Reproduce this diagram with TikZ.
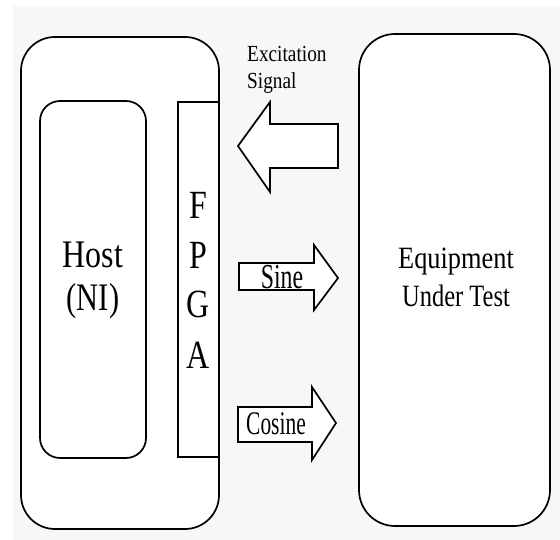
\documentclass[tikz,border=0pt]{standalone}
\usepackage{fontspec}
\setmainfont{Liberation Serif}
\usepackage{graphicx}
\begin{document}
\begin{tikzpicture}[x=1pt,y=-1pt,
  box/.style={draw=black,line width=1.7pt,fill=white},
  bigarrow/.style={draw=black,line width=1.7pt,fill=white,line join=miter},
  lbl/.style={inner sep=0pt,anchor=base,text=black}]
\useasboundingbox (0,0) rectangle (560,540);
\fill[black!3] (13,6) rectangle (560,540);
% boxes
\draw[box,rounded corners=34pt] (21,37) rectangle (219,529);
\draw[box,rounded corners=20pt] (40,101) rectangle (146,458);
\draw[box] (178,102) rectangle (219,457);
\draw[box,rounded corners=36pt] (359,34) rectangle (550,526);
% arrows
\draw[bigarrow] (338,124) -- (270,124) -- (270,102) -- (238,146) -- (270,192) -- (270,168) -- (338,168) -- cycle;
\draw[bigarrow] (239,263) -- (314,263) -- (314,245) -- (338,278) -- (314,310) -- (314,290) -- (239,290) -- cycle;
\draw[bigarrow] (238,407) -- (312,407) -- (312,387) -- (336,423) -- (312,460) -- (312,442) -- (238,442) -- cycle;
% texts
\node[lbl,anchor=base west] (exc1) at (247,62) {\fontsize{23}{26}\selectfont\scalebox{0.84}[1]{Excitation}};
\node[lbl,anchor=base west] (exc2) at (247,89) {\fontsize{23}{26}\selectfont\scalebox{0.84}[1]{Signal}};
\node[lbl] (host1) at (93,268) {\fontsize{39}{40}\selectfont\scalebox{0.82}[1]{Host}};
\node[lbl] (host2) at (93,311) {\fontsize{39}{40}\selectfont\scalebox{0.78}[1]{(NI)}};
\node[lbl] (f1) at (198,219) {\fontsize{40}{40}\selectfont\scalebox{0.8}[1]{F}};
\node[lbl] (f2) at (198,269) {\fontsize{40}{40}\selectfont\scalebox{0.8}[1]{P}};
\node[lbl] (f3) at (198,318) {\fontsize{40}{40}\selectfont\scalebox{0.8}[1]{G}};
\node[lbl] (f4) at (198,368) {\fontsize{40}{40}\selectfont\scalebox{0.8}[1]{A}};
\node[lbl] (sine) at (282,289) {\fontsize{35}{35}\selectfont\scalebox{0.68}[1]{Sine}};
\node[lbl] (cos) at (276,434) {\fontsize{33}{33}\selectfont\scalebox{0.65}[1]{Cosine}};
\node[lbl] (eut1) at (456,269) {\fontsize{31}{31}\selectfont\scalebox{0.85}[1]{Equipment}};
\node[lbl] (eut2) at (456,307) {\fontsize{31}{31}\selectfont\scalebox{0.79}[1]{Under Test}};
\end{tikzpicture}
\end{document}
